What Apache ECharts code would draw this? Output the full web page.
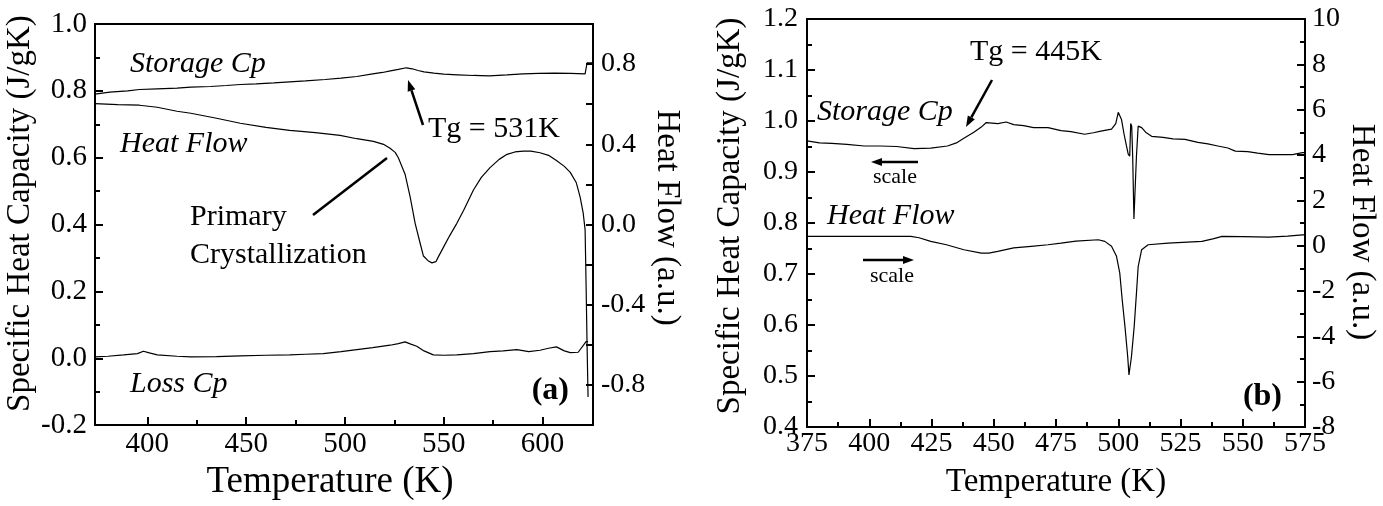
<!DOCTYPE html>
<html>
<head>
<meta charset="utf-8">
<script src="https://cdn.jsdelivr.net/npm/echarts@6/dist/echarts.min.js"></script>
<style>
  html, body { margin: 0; padding: 0; background: #fff; }
  #chart { width: 1383px; height: 506px; }
</style>
</head>
<body>
<div id="chart"></div>
<script>
// ---- panel (a) ----
var storageT_a = [373.5, 381, 390, 396, 405, 415, 422, 432, 440, 447, 455, 464, 472, 480, 490, 498, 506, 514, 519, 523, 527, 531, 534, 537, 540, 545, 550, 557, 565, 573, 582, 590, 598, 606, 614, 621.5, 622.5, 625.5];
var storageCp_a = [0.790, 0.796, 0.800, 0.804, 0.806, 0.808, 0.811, 0.813, 0.816, 0.819, 0.821, 0.824, 0.827, 0.830, 0.834, 0.838, 0.843, 0.851, 0.855, 0.860, 0.864, 0.869, 0.866, 0.861, 0.857, 0.853, 0.850, 0.848, 0.846, 0.845, 0.848, 0.851, 0.852, 0.853, 0.852, 0.851, 0.884, 0.884];

var heatT_a = [373.5, 385, 396, 405, 415, 422, 435, 447, 460, 472, 485, 497.5, 506, 514.4, 519.5, 522.8, 525.4, 527, 530.4, 533, 535.5, 538, 539.7, 542, 544, 546, 547.3, 550, 553, 556.6, 560, 565, 569, 573.4, 578, 582, 586, 590.3, 594, 598.7, 603, 607, 611, 614, 617, 619, 620.5, 621.5, 622, 622.5, 623];
var heatFlow_a = [0.603, 0.598, 0.595, 0.585, 0.565, 0.555, 0.530, 0.505, 0.485, 0.470, 0.458, 0.445, 0.428, 0.415, 0.400, 0.380, 0.360, 0.333, 0.251, 0.137, 0.006, -0.092, -0.157, -0.180, -0.191, -0.185, -0.160, -0.110, -0.055, 0.006, 0.070, 0.172, 0.235, 0.284, 0.325, 0.350, 0.362, 0.366, 0.366, 0.358, 0.345, 0.319, 0.290, 0.260, 0.210, 0.137, 0.060, -0.025, -0.300, -0.600, -0.860];

var lossT_a = [373.5, 380, 388, 395, 398, 401, 405, 415, 422, 435, 447, 460, 472, 480, 489, 498, 506, 514, 522.8, 527, 530.4, 533, 536.3, 540, 544.7, 550, 556.6, 565, 573.4, 580, 587, 593, 598.7, 603, 607, 611, 614, 618, 622, 623];
var lossCp_a = [0.004, 0.006, 0.010, 0.014, 0.021, 0.016, 0.010, 0.006, 0.004, 0.005, 0.007, 0.009, 0.010, 0.012, 0.014, 0.020, 0.026, 0.032, 0.039, 0.044, 0.049, 0.043, 0.036, 0.022, 0.010, 0.009, 0.010, 0.014, 0.020, 0.022, 0.026, 0.020, 0.024, 0.030, 0.034, 0.022, 0.017, 0.018, 0.050, 0.050];

var xLabels_a = [400, 450, 500, 550, 600];
var xMinor_a = [425, 475, 525, 575];

// ---- panel (b) ----
var storageT_b = [375, 380, 385, 391, 398, 404.5, 411, 418, 424.7, 431.4, 435, 438, 442, 445, 447, 451.6, 455, 458, 462, 466, 471.8, 477, 481, 486.5, 490, 493, 497.3, 499, 500, 501.3, 502.3, 503.3, 504, 504.6, 505, 505.4, 505.8, 506.3, 506.8, 507.3, 508, 509.4, 511, 513.4, 518, 522, 526.8, 532, 536, 540, 544, 547, 552, 556, 560.5, 565, 570, 574, 575];
var storageCp_b = [0.961, 0.957, 0.956, 0.954, 0.951, 0.951, 0.950, 0.946, 0.947, 0.951, 0.957, 0.966, 0.978, 0.988, 0.997, 0.995, 0.998, 0.993, 0.991, 0.987, 0.987, 0.981, 0.979, 0.974, 0.977, 0.980, 0.984, 0.995, 1.017, 1.003, 0.975, 0.951, 0.935, 0.931, 0.995, 0.990, 0.930, 0.808, 0.808, 0.930, 0.990, 0.987, 0.978, 0.970, 0.968, 0.965, 0.964, 0.958, 0.955, 0.951, 0.947, 0.941, 0.940, 0.937, 0.934, 0.934, 0.934, 0.938, 0.938];

var heatT_b = [375, 390, 405, 416.7, 420, 424.7, 431, 438, 445, 448, 451.6, 458, 465, 471.8, 477, 483, 492, 494.6, 497.3, 499.3, 500.6, 501.6, 502.7, 503.8, 504.3, 504.8, 505.3, 506.4, 507.4, 508, 509.4, 512, 520, 533.6, 538, 541.7, 550, 560.5, 568, 574, 575];
var heatFlow_b = [0.41, 0.41, 0.41, 0.41, 0.35, 0.19, 0.04, -0.18, -0.33, -0.33, -0.25, -0.10, -0.03, 0.04, 0.11, 0.20, 0.26, 0.19, -0.03, -0.47, -1.20, -2.40, -3.57, -4.90, -5.70, -5.70, -4.90, -3.57, -1.95, -0.92, -0.18, 0.04, 0.11, 0.19, 0.30, 0.41, 0.40, 0.38, 0.42, 0.48, 0.48];

function zip(xs, ys) {
  return xs.map(function (x, i) { return [x, ys[i]]; });
}

var FONT = '"Liberation Serif", "Times New Roman", serif';

function arrow(x1, y1, x2, y2, w) {
  var dx = x2 - x1, dy = y2 - y1, L = Math.sqrt(dx * dx + dy * dy);
  var ux = dx / L, uy = dy / L, hl = 11, hw = 4;
  var bx = x2 - ux * hl, by = y2 - uy * hl;
  return [
    { type: 'line', shape: { x1: x1, y1: y1, x2: bx, y2: by }, style: { stroke: '#000', lineWidth: w } },
    { type: 'polygon', shape: { points: [[x2, y2], [bx - uy * hw, by + ux * hw], [bx + uy * hw, by - ux * hw]] }, style: { fill: '#000' } }
  ];
}

function txt(s, x, y, font, align) {
  return {
    type: 'text',
    style: { text: s, x: x, y: y, font: font, fill: '#000', align: align || 'left', verticalAlign: 'middle', textAlign: align || 'left', textVerticalAlign: 'middle' }
  };
}

var labelA = { color: '#000', fontFamily: FONT, fontSize: 29 };
var labelB = { color: '#000', fontFamily: FONT, fontSize: 28 };
function nameStyle(pad) {
  return { color: '#000', fontFamily: FONT, fontSize: 33, padding: pad };
}
var lineAx = { show: true, onZero: false, lineStyle: { color: '#000', width: 2 } };
var tickSt = { color: '#000', width: 2 };

function line(xi, yi, data) {
  return {
    type: 'line', xAxisIndex: xi, yAxisIndex: yi, data: data,
    showSymbol: false, symbol: 'none', silent: true,
    lineStyle: { color: '#000', width: 1.2 }
  };
}

var chart = echarts.init(document.getElementById('chart'), null, { renderer: 'canvas' });

var it30 = 'italic 30px ' + FONT;
var rg30 = '30px ' + FONT;

var graphics = [].concat(
  [
    txt('Storage Cp', 130, 64, it30),
    txt('Heat Flow', 120, 144, it30),
    txt('Tg = 531K', 428, 129, rg30),
    txt('Primary', 190, 217, rg30),
    txt('Crystallization', 190, 255, rg30),
    txt('Loss Cp', 130, 384, it30),
    txt('(a)', 569, 391, 'bold 32px ' + FONT, 'right'),
    { type: 'line', shape: { x1: 313, y1: 215, x2: 387, y2: 158 }, style: { stroke: '#000', lineWidth: 2.5 } },

    txt('Storage Cp', 817, 112, it30),
    txt('Tg = 445K', 970, 52, rg30),
    txt('scale', 895, 177, '22px ' + FONT, 'center'),
    txt('Heat Flow', 827, 216, it30),
    txt('scale', 892, 276, '22px ' + FONT, 'center'),
    txt('(b)', 1282, 397, 'bold 32px ' + FONT, 'right')
  ],
  arrow(423, 125, 408, 80, 2.5),
  arrow(992, 80, 966, 127, 2.5),
  arrow(918, 162, 871, 162, 2.5),
  arrow(863, 260, 914, 260, 2.5)
);

var option = {
  animation: false,
  backgroundColor: '#fff',
  grid: [
    { left: 95, top: 24, width: 498, height: 408, show: true, borderColor: '#000', borderWidth: 2 },
    { left: 807, top: 19, width: 498, height: 408, show: true, borderColor: '#000', borderWidth: 2 }
  ],
  xAxis: [
    {
      type: 'value', gridIndex: 0, min: 373.5, max: 625.5,
      name: 'Temperature (K)', nameLocation: 'middle', nameGap: 33,
      nameTextStyle: { color: '#000', fontFamily: FONT, fontSize: 37, padding: [0, 28, 0, 0] },
      axisLine: lineAx,
      axisTick: { inside: true, length: 8, customValues: xLabels_a, lineStyle: tickSt },
      axisLabel: Object.assign({ margin: 5, customValues: xLabels_a }, labelA),
      splitLine: { show: false }
    },
    {
      type: 'value', gridIndex: 0, min: 373.5, max: 625.5, position: 'bottom',
      axisLine: { show: false, onZero: false },
      axisTick: { inside: true, length: 5, customValues: xMinor_a, lineStyle: tickSt },
      axisLabel: { show: false },
      splitLine: { show: false }
    },
    {
      type: 'value', gridIndex: 1, min: 375, max: 575, interval: 25,
      name: 'Temperature (K)', nameLocation: 'middle', nameGap: 39,
      nameTextStyle: { color: '#000', fontFamily: FONT, fontSize: 33 },
      axisLine: lineAx,
      axisTick: { inside: true, length: 8, lineStyle: tickSt },
      minorTick: { show: true, splitNumber: 2, length: 5, lineStyle: tickSt },
      axisLabel: Object.assign({ margin: 3, showMinLabel: true, showMaxLabel: true }, labelB),
      splitLine: { show: false }
    }
  ],
  yAxis: [
    {
      type: 'value', gridIndex: 0, min: -0.2, max: 1.0, interval: 0.2,
      name: 'Specific Heat Capacity (J/gK)', nameLocation: 'middle', nameGap: 55,
      nameTextStyle: nameStyle([0, 0, 0, 22]),
      axisLine: lineAx,
      axisTick: { inside: true, length: 8, lineStyle: tickSt },
      minorTick: { show: true, splitNumber: 2, length: 5, lineStyle: tickSt },
      axisLabel: Object.assign({ margin: 8, formatter: function (v) { return v.toFixed(1); } }, labelA),
      splitLine: { show: false }
    },
    {
      type: 'value', gridIndex: 0, position: 'right', min: -1.0, max: 1.0, interval: 0.2,
      name: 'Heat Flow (a.u.)', nameLocation: 'middle', nameGap: 57, nameRotate: -90,
      nameTextStyle: nameStyle([0, 14, 0, 0]),
      axisLine: lineAx,
      axisTick: { inside: true, length: 7, lineStyle: tickSt },
      axisLabel: Object.assign({
        margin: 8,
        formatter: function (v) {
          var k = Math.round(v * 10);
          return (k % 4 === 0 && Math.abs(k) < 10) ? v.toFixed(1) : '';
        }
      }, labelB),
      splitLine: { show: false }
    },
    {
      type: 'value', gridIndex: 1, min: 0.4, max: 1.2, interval: 0.1,
      name: 'Specific Heat Capacity (J/gK)', nameLocation: 'middle', nameGap: 60,
      nameTextStyle: nameStyle([0, 0, 0, 14]),
      axisLine: lineAx,
      axisTick: { inside: true, length: 8, lineStyle: tickSt },
      minorTick: { show: true, splitNumber: 2, length: 5, lineStyle: tickSt },
      axisLabel: Object.assign({ margin: 9, formatter: function (v) { return v.toFixed(1); } }, labelB),
      splitLine: { show: false }
    },
    {
      type: 'value', gridIndex: 1, position: 'right', min: -8, max: 10, interval: 2,
      name: 'Heat Flow (a.u.)', nameLocation: 'middle', nameGap: 40, nameRotate: -90,
      nameTextStyle: nameStyle([0, 0, 0, 18]),
      axisLine: lineAx,
      axisTick: { inside: true, length: 8, lineStyle: tickSt },
      minorTick: { show: true, splitNumber: 2, length: 5, lineStyle: tickSt },
      axisLabel: Object.assign({ margin: 7 }, labelB),
      splitLine: { show: false }
    }
  ],
  series: [
    line(0, 0, zip(storageT_a, storageCp_a)),
    line(0, 1, zip(heatT_a, heatFlow_a)),
    line(0, 0, zip(lossT_a, lossCp_a)),
    line(2, 2, zip(storageT_b, storageCp_b)),
    line(2, 3, zip(heatT_b, heatFlow_b))
  ],
  graphic: graphics
};

chart.setOption(option);
</script>
</body>
</html>
